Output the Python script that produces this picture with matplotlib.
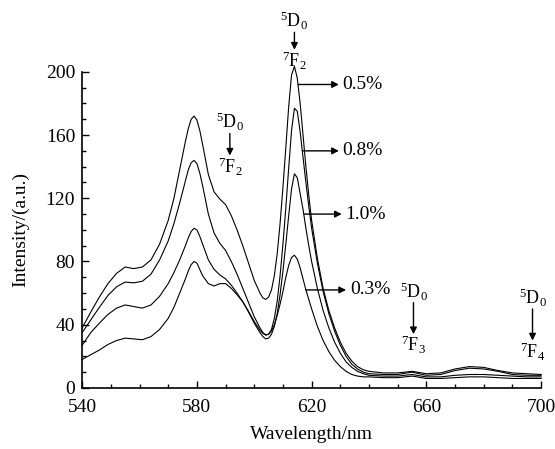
import numpy as np
import matplotlib
matplotlib.use("Agg")
import matplotlib.pyplot as plt

plt.rcParams['font.family'] = ['Liberation Serif', 'DejaVu Serif']
plt.rcParams['mathtext.fontset'] = 'custom'
plt.rcParams['mathtext.rm'] = 'Liberation Serif'
plt.rcParams['mathtext.it'] = 'Liberation Serif:italic'

# wavelength grid (nm)
wl = [540, 543, 546, 549, 552, 555, 558, 561, 564, 567, 570, 572, 574, 576, 577, 578,
      579, 580, 581, 582, 584, 586, 588, 590, 592, 594, 596, 598, 600, 602, 603, 604,
      605, 606, 607, 608, 609, 610, 611, 612, 613, 614, 615, 616, 617, 618, 619, 620,
      622, 624, 626, 628, 630, 632, 634, 636, 638, 640, 645, 650, 655, 660, 665, 670,
      675, 680, 685, 690, 695, 700]

# 0.5 %
i05 = [38, 48, 57.5, 66, 72.5, 76.5, 75.5, 76.5, 81, 91, 106, 120, 138, 156, 164, 170,
       172, 169.5, 163, 154, 135, 124, 119.5, 116, 109, 100, 90, 79, 68, 60, 57, 56,
       57.5, 62, 71, 85, 104, 127, 152, 178, 198, 203.5, 196, 180, 160, 140, 122, 106,
       82, 63, 49, 38, 29, 22, 17, 13.5, 11.5, 10.5, 9.5, 9.5, 10.5, 9, 9.5, 12,
       13.5, 13, 11, 9.5, 9, 8.5]
# 0.8 %
i08 = [35, 43, 51, 58.5, 64, 67, 66.5, 67.5, 72, 81, 93, 104, 117, 131, 138, 142.5,
       144, 142, 136, 128, 110, 98, 91.5, 87, 80, 72, 63, 54, 45, 38, 35, 33.5,
       34, 37, 44, 55, 71, 91, 114, 139, 163, 177, 175, 162, 146, 130, 115, 101,
       79, 61, 47, 36, 27, 20, 15, 12, 10, 9, 8.5, 8.5, 10, 8, 8.5, 11,
       12.5, 12, 10.5, 8.5, 8, 8]
# 1.0 %
i10 = [27, 35, 41, 46.5, 50.5, 52.5, 51.5, 50.5, 52.5, 58, 66, 73, 81, 90, 95, 99,
       101, 100, 96, 91, 81, 75, 71.5, 69, 65, 60, 54.5, 48, 41, 35, 32.5, 31,
       31.5, 34, 39, 47, 59, 74, 91, 109, 126, 135.5, 133, 123, 113, 101, 90, 80,
       63, 49, 38, 29, 22, 16.5, 13, 10.5, 9, 8, 7.5, 7.5, 8.5, 7, 7, 8,
       8.5, 8.5, 8, 7.5, 7, 7]
# 0.3 %
i03 = [18, 21, 24, 27.5, 30, 31.5, 31, 30.5, 32.5, 37, 44, 51, 60, 69, 74, 78,
       80, 79, 75, 71, 66, 64.5, 66, 66, 63, 59, 54.5, 48.5, 42, 36.5, 34.5, 33.5,
       34, 36, 40, 46, 53, 61, 70, 77.5, 82.5, 84, 81.5, 76, 69, 62, 56, 50,
       39, 30, 23, 17.5, 13.5, 10.5, 8.5, 7.5, 7, 7, 6.5, 6.5, 7.5, 6, 6, 6.5,
       7, 7, 6.5, 6, 6, 6]

series = [i05, i08, i10, i03]
labels = ['0.5%', '0.8%', '1.0%', '0.3%']
# where each label arrow leaves its curve: (wavelength, intensity)
arrow_start = [(615.3, 192), (616.8, 150), (617.3, 110), (618.0, 62)]
arrow_end_x = [629.5, 629.5, 630.5, 632]

fig = plt.figure(figsize=(5.55, 4.49), dpi=100)
ax = fig.add_axes([0.148, 0.136, 0.827, 0.704])

for s in series:
    ax.plot(wl, s, color='k', lw=0.8, clip_on=False)

ax.set_xlim(540, 700)
ax.set_ylim(0, 200)
ax.set_xticks([540, 580, 620, 660, 700])
ax.set_xticks(np.arange(540, 701, 10), minor=True)
ax.set_yticks([0, 40, 80, 120, 160, 200])
ax.set_yticks(np.arange(0, 201, 10), minor=True)
ax.tick_params(direction='in', which='major', length=5, width=1, labelsize=14)
ax.tick_params(axis='x', which='major', pad=8)
ax.tick_params(axis='y', which='major', pad=5)
ax.tick_params(direction='in', which='minor', length=3, width=1)
ax.spines['top'].set_visible(False)
ax.spines['right'].set_visible(False)
ax.spines['left'].set_linewidth(1.2)
ax.spines['bottom'].set_linewidth(1.2)

ax.set_xlabel('Wavelength/nm', fontsize=14, labelpad=7)
ax.set_ylabel('Intensity/(a.u.)', fontsize=14, labelpad=12)

ap = dict(arrowstyle='-|>', color='k', lw=1, mutation_scale=10, shrinkA=0, shrinkB=0)
for lab, (x0, y0), x1 in zip(labels, arrow_start, arrow_end_x):
    ax.annotate('', xy=(x1, y0), xytext=(x0, y0), arrowprops=ap, annotation_clip=False)
    ax.text(x1 + 1.3, y0, lab, fontsize=14, va='center', ha='left')


def transition(x, y_top, y_bot, lower, size=13):
    ax.text(x, y_top, r'$\mathregular{^5D_0}$', fontsize=size, ha='center', va='center', clip_on=False)
    ax.annotate('', xy=(x, y_bot + 7), xytext=(x, y_top - 7), arrowprops=ap, annotation_clip=False)
    ax.text(x, y_bot, r'$\mathregular{^7F_' + lower + '}$', fontsize=size, ha='center', va='center',
            clip_on=False)


transition(614, 232, 207, '2')
transition(591.5, 168, 140, '2')
transition(655.5, 61, 27, '3')
transition(697, 57, 23, '4')

fig.savefig('out.png', dpi=100)
